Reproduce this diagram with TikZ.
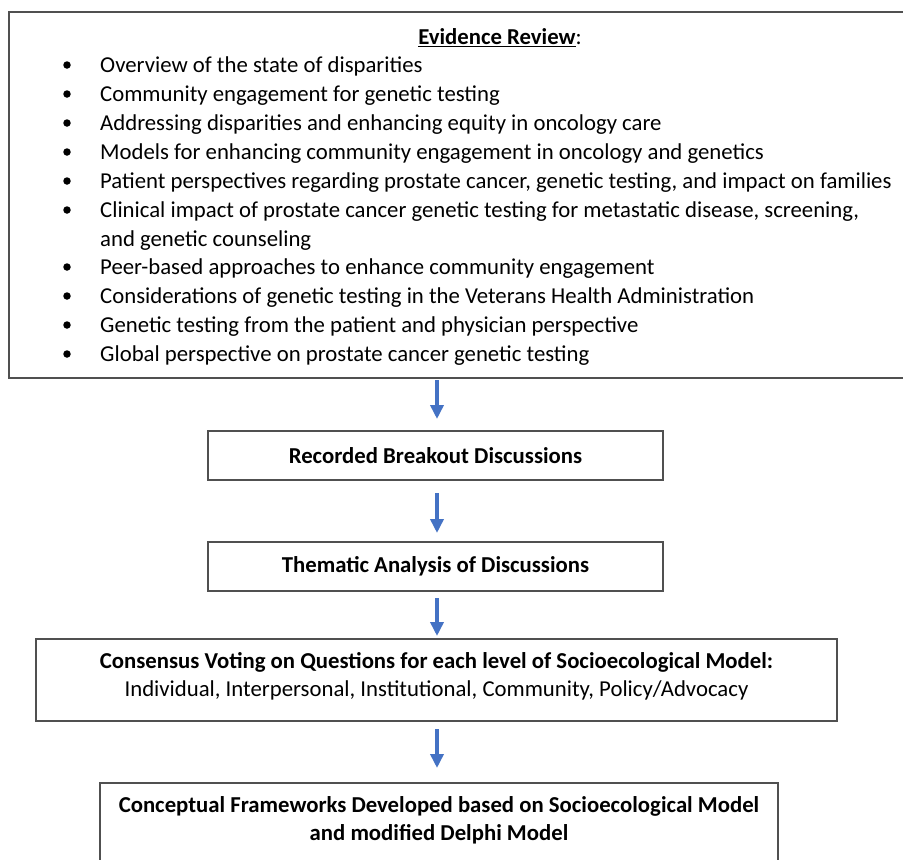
\documentclass[tikz,border=0pt]{standalone}
\usepackage{fontspec}
\setmainfont{Carlito}
\usetikzlibrary{arrows.meta}
\definecolor{boxgray}{HTML}{505050}
\definecolor{arrowblue}{HTML}{4472C4}
\newcommand{\fsz}{\fontsize{22.75}{29}\selectfont}
\begin{document}
\begin{tikzpicture}[x=1pt,y=-1pt,
  frame/.style={draw=boxgray, line width=1.2pt, inner sep=0pt, minimum width=#1},
  body/.style={font=\fsz, inner sep=0pt},
  bold/.style={font=\fontsize{22.75}{28}\selectfont\bfseries, inner sep=0pt, align=center},
  line/.style={body, anchor=base west},
  dot/.style={circle, fill=black, inner sep=0pt, minimum size=7.5pt},
  flow/.style={draw=arrowblue, line width=4.5pt, -{Triangle[length=14pt,width=13pt]}}
]
\useasboundingbox (0,0) rectangle (903,860);
\clip (0,0) rectangle (903,860);
\fill[white] (0,0) rectangle (903,860);

% top box
\node[frame=920pt, minimum height=366pt] (review) at (469,195) {};
\node[body, anchor=base] (title) at (500,44.5) {\underline{\textbf{Evidence Review}}:};
\foreach \i/\y/\t in {
  1/72.5/{Overview of the state of disparities},
  2/101.5/{Community engagement for genetic testing},
  3/130.5/{Addressing disparities and enhancing equity in oncology care},
  4/159.5/{Models for enhancing community engagement in oncology and genetics},
  5/188.5/{Patient perspectives regarding prostate cancer, genetic testing, and impact on families},
  6/217.5/{Clinical impact of prostate cancer genetic testing for metastatic disease, screening,},
  7/274.5/{Peer-based approaches to enhance community engagement},
  8/303.5/{Considerations of genetic testing in the Veterans Health Administration},
  9/332.5/{Genetic testing from the patient and physician perspective},
  10/361.5/{Global perspective on prostate cancer genetic testing}} {
  \node[line] (b\i) at (100,\y) {\t};
  \node[dot] (d\i) at (67,\y-7.5) {};
}
\node[line] (b6b) at (100,246.5) {and genetic counseling};

% box 2
\node[frame=455pt, minimum height=49pt] (box2) at (435.5,455.5)
  {\textbf{\fontsize{22.75}{28}\selectfont Recorded Breakout Discussions}};
% box 3
\node[frame=455pt, minimum height=49pt] (box3) at (435.5,566.5)
  {\textbf{\fontsize{22.75}{28}\selectfont Thematic Analysis of Discussions}};
% box 4
\node[frame=801pt, minimum height=82pt] (box4) at (436.5,680) {};
\node[bold] (t4a) at (436.5,662) {Consensus Voting on Questions for each level of Socioecological Model:};
\node[body] (t4b) at (436.5,690) {Individual, Interpersonal, Institutional, Community, Policy/Advocacy};
% box 5
\node[frame=678pt, minimum height=120pt] (box5) at (439,843) {};
\node[bold] (t5) at (439,820) {Conceptual Frameworks Developed based on Socioecological Model\\and modified Delphi Model};

% arrows
\coordinate (a1s) at (437,380);
\coordinate (a1e) at (437,419);
\draw[flow] (a1s) -- (a1e);
\coordinate (a2s) at (437,493);
\coordinate (a2e) at (437,533);
\draw[flow] (a2s) -- (a2e);
\coordinate (a3s) at (437,598);
\coordinate (a3e) at (437,636);
\draw[flow] (a3s) -- (a3e);
\coordinate (a4s) at (437,729);
\coordinate (a4e) at (437,768);
\draw[flow] (a4s) -- (a4e);
\end{tikzpicture}
\end{document}
